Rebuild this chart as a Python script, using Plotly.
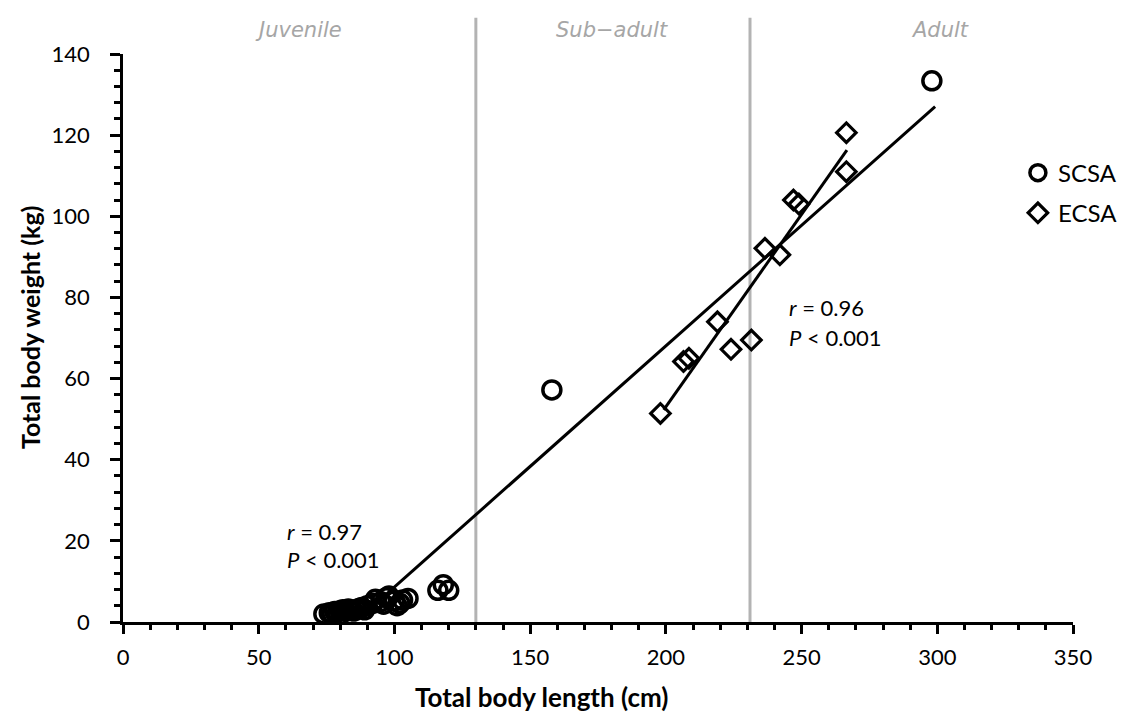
import plotly.graph_objects as go

# ---- data ----
scsa_length = [74, 76, 77, 78, 79, 80, 81, 82, 83, 84, 85, 86, 87, 88, 89, 90, 92, 93,
               95, 96, 97, 98, 100, 101, 102, 103, 105, 116, 118, 120, 158, 298]
scsa_weight = [2.0, 2.3, 2.1, 2.6, 2.4, 2.8, 3.0, 2.6, 3.2, 2.9, 2.7, 3.1, 3.3, 3.6, 3.0, 4.0, 4.6, 5.6,
               5.0, 4.4, 6.0, 6.4, 5.2, 4.0, 4.6, 5.4, 5.8, 7.8, 9.2, 7.8, 57.2, 133.4]

ecsa_length = [198, 206.5, 208.5, 219, 224, 231.5, 236.5, 242, 247, 249, 266.5, 266.5]
ecsa_weight = [51.4, 64.2, 65.0, 74.0, 67.2, 69.5, 92.1, 90.5, 104.0, 103.0, 111.0, 120.6]

# trendline end points
scsa_trend_x = [87, 299.2]
scsa_trend_y = [0.9, 127.0]
ecsa_trend_x = [199.2, 266.7]
ecsa_trend_y = [52.3, 116.3]

stage_bounds = [130, 231]
stage_labels = ["Juvenile", "Sub\u2212adult", "Adult"]
stage_label_x = [64.5, 180, 301]

scsa_stats = ["<i>r</i> = 0.97", "<i>P</i> < 0.001"]
ecsa_stats = ["<i>r</i> = 0.96", "<i>P</i> < 0.001"]

x_ticks = [0, 50, 100, 150, 200, 250, 300, 350]
y_ticks = [0, 20, 40, 60, 80, 100, 120, 140]

FONT = "Lato"

fig = go.Figure()

fig.add_trace(go.Scatter(
    x=scsa_length, y=scsa_weight, mode="markers", name="SCSA",
    legendgroup="a",
    marker=dict(symbol="circle-open", size=18, color="black", line=dict(width=3.5)),
    cliponaxis=False,
))
fig.add_trace(go.Scatter(
    x=ecsa_length, y=ecsa_weight, mode="markers", name="ECSA",
    legendgroup="b",
    marker=dict(symbol="diamond-open", size=15, color="black", line=dict(width=3.2)),
    cliponaxis=False,
))
fig.add_trace(go.Scatter(
    x=scsa_trend_x, y=scsa_trend_y, mode="lines", showlegend=False,
    line=dict(color="black", width=3), hoverinfo="skip",
))
fig.add_trace(go.Scatter(
    x=ecsa_trend_x, y=ecsa_trend_y, mode="lines", showlegend=False,
    line=dict(color="black", width=3), hoverinfo="skip",
))

shapes = []
for b in stage_bounds:
    shapes.append(dict(type="line", xref="x", yref="paper", x0=b, x1=b, y0=0, y1=1.064,
                       line=dict(color="#b3b3b3", width=3), layer="below"))

annotations = []
for lab, lx in zip(stage_labels, stage_label_x):
    annotations.append(dict(x=lx, y=1.042, xref="x", yref="paper", text=lab, showarrow=False,
                            xanchor="center", yanchor="middle",
                            font=dict(family="DejaVu Sans", size=21, color="#a6a6a6", style="italic")))

for i, t in enumerate(scsa_stats):
    annotations.append(dict(x=59.6, y=[22.2, 15.5][i], xref="x", yref="y", text=t, showarrow=False,
                            xanchor="left", yanchor="middle",
                            font=dict(family=FONT, size=22, color="black")))
for i, t in enumerate(ecsa_stats):
    annotations.append(dict(x=244.7, y=[77.4, 70.2][i], xref="x", yref="y", text=t, showarrow=False,
                            xanchor="left", yanchor="middle",
                            font=dict(family=FONT, size=22, color="black")))

annotations.append(dict(x=0.441, y=-0.132, xref="paper", yref="paper",
                        text="<b>Total body length (cm)</b>", showarrow=False,
                        xanchor="center", yanchor="middle",
                        font=dict(family=FONT, size=26, color="black")))
annotations.append(dict(x=-0.098, y=0.519, xref="paper", yref="paper",
                        text="<b>Total body weight (kg)</b>", showarrow=False, textangle=-90,
                        xanchor="center", yanchor="middle",
                        font=dict(family=FONT, size=25, color="black")))

fig.update_layout(
    width=1134, height=713,
    margin=dict(l=123, r=61, t=54, b=91, autoexpand=False),
    paper_bgcolor="white", plot_bgcolor="white",
    font=dict(family=FONT, size=22, color="black"),
    shapes=shapes, annotations=annotations,
    showlegend=True,
    legend=dict(x=0.942, y=0.83, xanchor="left", yanchor="top",
                font=dict(family=FONT, size=24, color="black"),
                tracegroupgap=6, bgcolor="rgba(0,0,0,0)"),
    xaxis=dict(range=[0, 350], tickvals=x_ticks, showgrid=False, zeroline=False,
               showline=True, linecolor="black", linewidth=2.5,
               ticks="outside", ticklen=9, tickwidth=2.5, tickcolor="black",
               ticklabelstandoff=5, automargin=False,
               minor=dict(dtick=10, ticks="outside", ticklen=5, tickwidth=2.5,
                          tickcolor="black", showgrid=False),
               tickfont=dict(family=FONT, size=22, color="black")),
    yaxis=dict(range=[0, 140], tickvals=y_ticks, showgrid=False, zeroline=False,
               showline=True, linecolor="black", linewidth=2.5,
               ticks="outside", ticklen=10, tickwidth=2.5, tickcolor="black",
               ticklabelstandoff=16, automargin=False,
               minor=dict(dtick=4, ticks="outside", ticklen=6, tickwidth=2.5,
                          tickcolor="black", showgrid=False),
               tickfont=dict(family=FONT, size=22, color="black")),
)

fig.write_html("out.html")
